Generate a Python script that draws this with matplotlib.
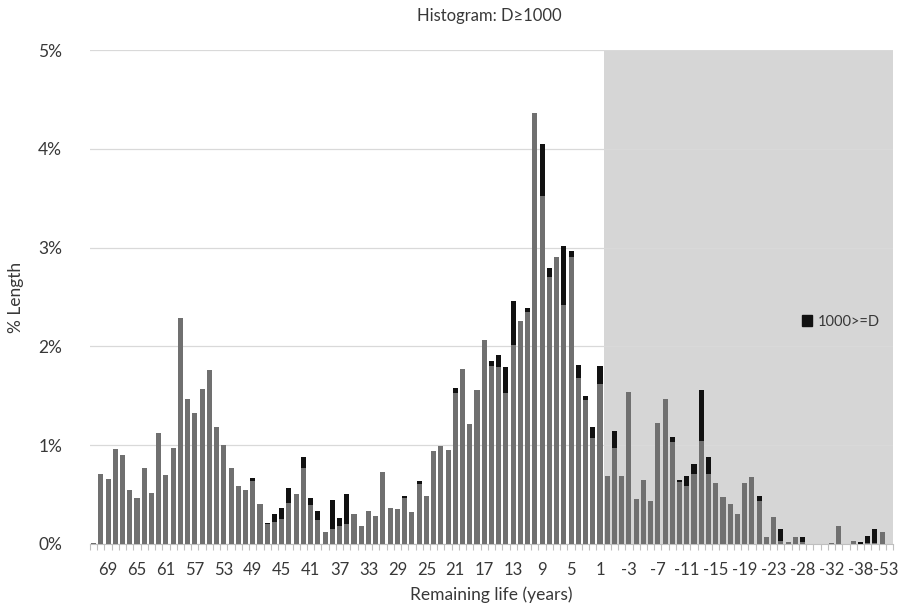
import matplotlib
matplotlib.use("Agg")
import matplotlib.pyplot as plt
import matplotlib.patches as mpatches
import matplotlib.transforms as mtransforms
import numpy as np

# ── data (percent of length) ──────────────────────────────────────────────────
years = list(range(71, -24, -1)) + [-24, -25, -26, -28, -29, -30, -31, -32,
                                     -33, -34, -36, -38, -40, -42, -45, -53]

gray = [
    0.015, 0.705, 0.658, 0.96, 0.90, 0.55, 0.47, 0.77, 0.52, 1.125,   # 71..62
    0.70, 0.976, 2.285, 1.47, 1.325, 1.57, 1.766, 1.186, 1.0, 0.773,  # 61..52
    0.583, 0.549, 0.64, 0.407, 0.20, 0.227, 0.251, 0.414, 0.505, 0.769,  # 51..42
    0.39, 0.247, 0.119, 0.156, 0.186, 0.203, 0.308, 0.183, 0.329, 0.288,  # 41..32
    0.725, 0.369, 0.359, 0.464, 0.322, 0.607, 0.488, 0.946, 0.993, 0.949,  # 31..22
    1.525, 1.769, 1.214, 1.556, 2.064, 1.803, 1.79, 1.531, 2.017, 2.256,  # 21..12
    2.344, 4.361, 3.524, 2.698, 2.907, 2.415, 2.907, 1.68, 1.454, 1.069,  # 11..2
    1.616, 0.685, 0.968, 0.685, 1.536, 0.454, 0.644, 0.434, 1.227, 1.464,  # 1..-8
    1.031, 0.624, 0.59, 0.705, 1.047, 0.712, 0.62, 0.471, 0.407, 0.305,  # -9..-18
    0.62, 0.678, 0.437, 0.071, 0.275,                                    # -19..-23
    0.027, 0.02, 0.071, 0.017, 0.005, 0.005, 0.005, 0.007,
    0.183, 0.003, 0.027, 0.003, 0.007, 0.01, 0.125, 0.005,
]

black = [
    0, 0, 0, 0, 0, 0, 0, 0, 0, 0,
    0, 0, 0, 0, 0, 0, 0, 0, 0, 0,
    0, 0, 0.024, 0, 0.017, 0.078, 0.112, 0.152, 0, 0.112,
    0.078, 0.089, 0, 0.285, 0.075, 0.305, 0, 0, 0, 0,
    0, 0, 0, 0.017, 0, 0.03, 0, 0, 0, 0,
    0.051, 0, 0, 0, 0, 0.048, 0.12, 0.263, 0.438, 0,
    0.047, 0, 0.523, 0.091, 0, 0.60, 0.058, 0.128, 0.04, 0.111,
    0.188, 0, 0.171, 0, 0, 0, 0, 0, 0, 0,
    0.054, 0.02, 0.095, 0.109, 0.512, 0.169, 0, 0, 0, 0,
    0, 0, 0.048, 0, 0,
    0.126, 0, 0, 0.058, 0, 0, 0, 0,
    0, 0, 0, 0.02, 0.078, 0.143, 0, 0,
]

tick_labels = [str(y) for y in years]

# ── style ─────────────────────────────────────────────────────────────────────
C_GRAY  = "#707070"
C_BLACK = "#111111"
C_SHADE = "#d6d6d6"
C_TEXT  = "#383838"
C_GRID  = "#d9d9d9"

plt.rcParams["font.family"] = ["Lato", "DejaVu Sans"]

fig = plt.figure(figsize=(8.98, 6.10), dpi=100)
ax = fig.add_axes([0.1002, 0.1082, 0.8942, 0.8098])

x = np.arange(len(years))
ax.bar(x, gray, width=0.7, color=C_GRAY, zorder=3)
ax.bar(x, black, width=0.7, bottom=gray, color=C_BLACK, zorder=3)

# shaded region for remaining life <= 0
shade_start = years.index(0) - 0.5
ax.axvspan(shade_start, len(years) - 0.5, color=C_SHADE, zorder=0, lw=0)

ax.set_xlim(-0.5, len(years) - 0.5)
ax.set_ylim(0, 5)
ax.set_yticks(range(0, 6))
ax.set_yticklabels([f"{v}%" for v in range(0, 6)])
ax.yaxis.grid(True, color=C_GRID, lw=0.9, zorder=1)
ax.set_axisbelow(True)

major = list(range(2, len(years), 4))
ax.set_xticks(major)
ax.set_xticklabels([tick_labels[i] for i in major])
ax.set_xticks(np.arange(-0.5, len(years), 1), minor=True)
ax.tick_params(axis="x", which="major", length=0, pad=13, labelsize=12, labelcolor=C_TEXT)
ax.tick_params(axis="x", which="minor", length=4, color="#bfbfbf", width=0.8)
ax.tick_params(axis="y", length=0, pad=20, labelsize=12.5, labelcolor=C_TEXT)

# keep the last label inside the figure
last = ax.get_xticklabels()[-1]
last.set_transform(last.get_transform() +
                   mtransforms.ScaledTranslation(-2.5 / 72, 0, fig.dpi_scale_trans))

for s in ["top", "right", "left"]:
    ax.spines[s].set_visible(False)
ax.spines["bottom"].set_color("#bfbfbf")

ax.set_xlabel("Remaining life (years)", fontsize=12.5, color=C_TEXT, labelpad=6)
ax.set_ylabel("% Length", fontsize=12.5, color=C_TEXT, labelpad=10)
fig.text(0.545, 0.974, "Histogram: D\u22651000", ha="center", va="center",
         fontsize=12, color=C_TEXT)

leg = ax.legend(handles=[mpatches.Patch(color=C_BLACK, label="1000>=D")],
                loc="center left", bbox_to_anchor=(0.87, 0.45), frameon=False,
                fontsize=10.5, handlelength=0.7, handleheight=0.7, handletextpad=0.4)
for t in leg.get_texts():
    t.set_color(C_TEXT)

fig.savefig("out.png", dpi=100)
